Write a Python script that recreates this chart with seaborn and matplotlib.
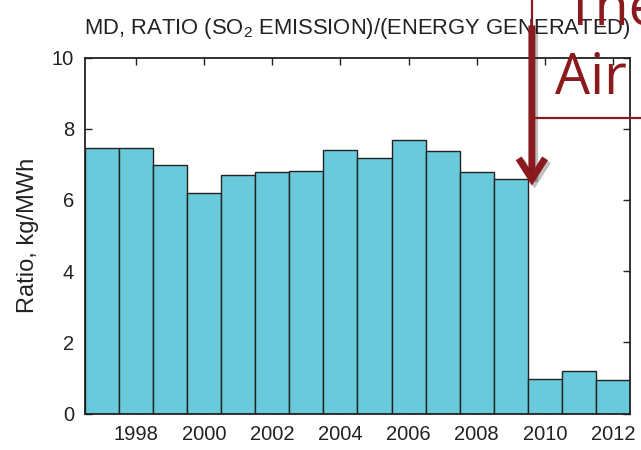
import matplotlib
matplotlib.use("Agg")
import matplotlib.pyplot as plt
import matplotlib.patheffects as pe
import seaborn as sns
import pandas as pd
from matplotlib.patches import Rectangle

years = [1997, 1998, 1999, 2000, 2001, 2002, 2003, 2004,
         2005, 2006, 2007, 2008, 2009, 2010, 2011, 2012]
ratio = [7.46, 7.45, 6.99, 6.19, 6.70, 6.78, 6.80, 7.39,
         7.18, 7.67, 7.37, 6.77, 6.60, 0.97, 1.18, 0.93]
x_ticks = [1998, 2000, 2002, 2004, 2006, 2008, 2010, 2012]
y_ticks = [0, 2, 4, 6, 8, 10]
title = "MD, RATIO (SO$_2$ EMISSION)/(ENERGY GENERATED)"
ylabel = "Ratio, kg/MWh"
note_lines = ["The", "Air A"]

sns.set_style("ticks")
plt.rcParams["font.family"] = ["Liberation Sans", "DejaVu Sans"]
plt.rcParams["mathtext.fontset"] = "custom"
plt.rcParams["mathtext.rm"] = "Liberation Sans"

df = pd.DataFrame({"year": years, "ratio": ratio})

fig = plt.figure(figsize=(6.41, 4.5), dpi=100)
ax = fig.add_axes([0.1326, 0.0811, 0.8502, 0.7911])

sns.histplot(data=df, x="year", weights="ratio", discrete=True, shrink=1,
             color="#69CADB", edgecolor="#222222", linewidth=1.0, alpha=1,
             ax=ax)

ax.set_xlim(1996.5, 2012.5)
ax.set_ylim(0, 10)
ax.set_xticks(x_ticks)
ax.set_xticklabels([str(y) for y in x_ticks])
ax.set_yticks(y_ticks)
ax.set_yticklabels([str(v) for v in y_ticks])
ax.set_xlabel("")
ax.set_ylabel(ylabel, fontsize=17, color="#222222", labelpad=9)
ax.tick_params(direction="in", length=5, width=1, top=True, right=True,
               labelsize=14.5, colors="#222222", pad=8)
for s in ax.spines.values():
    s.set_visible(True)
    s.set_linewidth(1.3)
    s.set_color("#222222")

ax.set_title(title, fontsize=15.8, color="#222222", pad=17)

# annotation box (partly off-figure)
red = "#8B1A1E"
fig.patches.append(Rectangle((0.830, 0.738), 0.3, 0.4, transform=fig.transFigure,
                             fill=False, edgecolor=red, linewidth=1.6, zorder=5))
fig.text(0.880, 0.945, note_lines[0], fontsize=40, color=red,
         family=["Open Sans", "DejaVu Sans"], va="baseline", ha="left")
fig.text(0.866, 0.790, note_lines[1], fontsize=40, color=red,
         family=["Open Sans", "DejaVu Sans"], va="baseline", ha="left")

# arrow pointing at 2010 drop
ax.annotate("", xy=(2009.62, 6.40), xytext=(2009.62, 10.9),
            xycoords="data", textcoords="data", annotation_clip=False,
            arrowprops=dict(arrowstyle="->,head_length=1.5,head_width=0.95",
                            color=red, lw=5, shrinkA=0, shrinkB=0,
                            capstyle="butt", joinstyle="miter",
                            path_effects=[pe.SimpleLineShadow(offset=(2, -2), alpha=0.25),
                                          pe.Normal()]),
            zorder=6)

fig.savefig("out.png", dpi=100)
